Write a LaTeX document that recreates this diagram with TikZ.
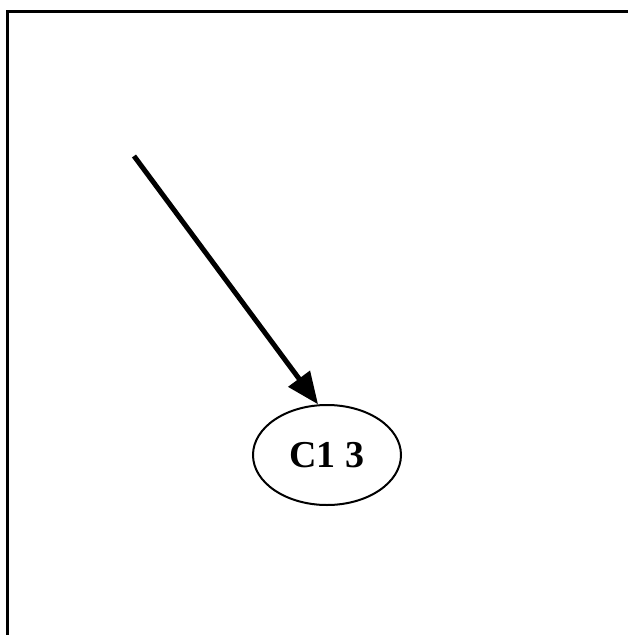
\documentclass[tikz,border=0pt]{standalone}
\usepackage{fontspec}
\setmainfont{Liberation Serif}
\usetikzlibrary{shapes.geometric,arrows.meta}
\tikzset{
  state/.style={draw, ellipse, line width=2pt, minimum width=148pt, minimum height=100pt, inner sep=0pt, font=\fontsize{38}{40}\selectfont\bfseries},
  link/.style={line width=5pt, -{Triangle[length=32pt,width=26pt]}}
}
\begin{document}
\begin{tikzpicture}[x=1pt,y=-1pt]
			\useasboundingbox (0,0) rectangle (628,635);
			\draw[line width=3pt] (7,650) -- (7,11) -- (650,11);
			\coordinate (start) at (134,156);
			\node[state] (c13) at (327,455) {C1 3};
			\draw[link] (start) -- (c13.100);
		\end{tikzpicture}
\end{document}
